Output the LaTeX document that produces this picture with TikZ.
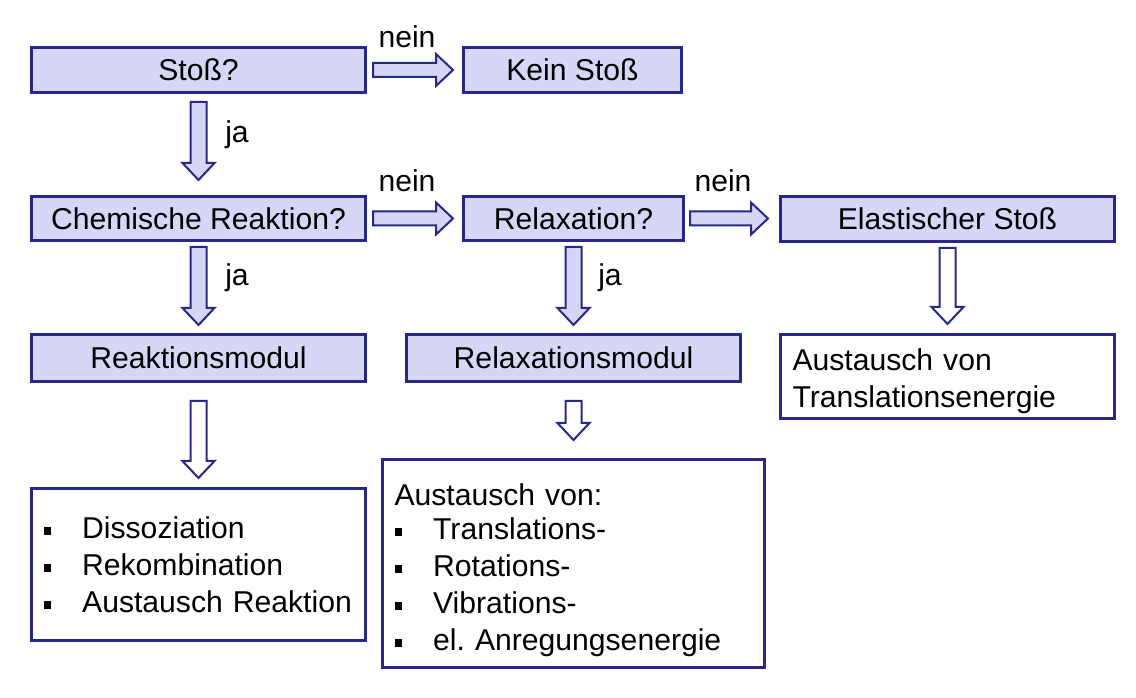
\documentclass[tikz,border=0pt]{standalone}
\usepackage{fontspec}
\setmainfont{Liberation Sans}
\usetikzlibrary{calc}
\definecolor{navy}{RGB}{40,40,140}
\definecolor{lav}{RGB}{214,214,246}
\newcommand\blt{\makebox[29pt][l]{\rule[2.6pt]{5.5pt}{5.75pt}}}
% vertical block arrow: src, dst, start gap, end gap, fill
\newcommand\darrow[5]{%
  \draw[blkarrow,fill=#5] let \p1=(#1.south), \p2=(#2.north) in
  ({\x1-6pt},{\y1-#3}) -- ({\x1+6pt},{\y1-#3}) -- ({\x1+6pt},{\y2+#4+12.75pt})
  -- ({\x1+12pt},{\y2+#4+12.75pt}) -- (\x1,{\y2+#4}) -- ({\x1-12pt},{\y2+#4+12.75pt})
  -- ({\x1-6pt},{\y2+#4+12.75pt}) -- cycle;}
% horizontal block arrow
\newcommand\rarrow[4]{%
  \draw[blkarrow,fill=lav] let \p1=(#1.east), \p2=(#2.west) in
  ({\x1+#3},{\y1-5.25pt}) -- ({\x2-#4-12.75pt},{\y1-5.25pt}) -- ({\x2-#4-12.75pt},{\y1-12pt})
  -- ({\x2-#4},\y1) -- ({\x2-#4-12.75pt},{\y1+12pt}) -- ({\x2-#4-12.75pt},{\y1+5.25pt})
  -- ({\x1+#3},{\y1+5.25pt}) -- cycle;}
\begin{document}
\begin{tikzpicture}[x=0.75pt,y=-0.75pt,
  txt/.style={font=\fontsize{22.6}{27.75}\selectfont},
  box/.style={txt,draw=navy,line width=2.25pt,fill=lav,inner sep=0pt},
  wbox/.style={box,fill=white},
  blkarrow/.style={draw=navy,line width=1.5pt,line join=miter},
  lbl/.style={txt,inner sep=0pt}]
\useasboundingbox[fill=white] (0,0) rectangle (1136,698);
% boxes
\node[box,minimum width={334*0.75pt},minimum height={45*0.75pt}] (stoss) at (198.5,70) {Stoß?};
\node[box,minimum width={218*0.75pt},minimum height={45*0.75pt}] (kein) at (572.5,70) {Kein Stoß};
\node[box,minimum width={334*0.75pt},minimum height={44*0.75pt}] (chem) at (198.5,218.5) {Chemische Reaktion?};
\node[box,minimum width={220*0.75pt},minimum height={44*0.75pt}] (relax) at (573.5,218.5) {Relaxation?};
\node[box,minimum width={334*0.75pt},minimum height={45*0.75pt}] (elast) at (947.5,219) {Elastischer Stoß};
\node[box,minimum width={334*0.75pt},minimum height={47*0.75pt}] (reakt) at (198.5,358) {Reaktionsmodul};
\node[box,minimum width={334*0.75pt},minimum height={47*0.75pt}] (relmod) at (573.5,358) {Relaxationsmodul};
\node[wbox,minimum width={334*0.75pt},minimum height={84*0.75pt},text width={310*0.75pt},align=left] (transl) at (947.5,376.5) {\rule{0pt}{23pt}Austausch von\\Translationsenergie};
\node[wbox,minimum width={334*0.75pt},minimum height={152*0.75pt},text width={310*0.75pt},align=left] (list1) at (198.5,564.5)
  {\blt Dissoziation\\\blt Rekombination\\\blt Austausch Reaktion};
\node[wbox,minimum width={382*0.75pt},minimum height={208*0.75pt},text width={358*0.75pt},align=left] (list2) at (573.5,563.5)
  {\rule{0pt}{26pt}Austausch von:\\[-2pt]\blt Translations-\\\blt Rotations-\\\blt Vibrations-\\\blt el.\ Anregungsenergie};
% arrows
\rarrow{stoss}{kein}{4.5pt}{6.75pt}
\rarrow{chem}{relax}{4.5pt}{6.75pt}
\rarrow{relax}{elast}{3.75pt}{8.25pt}
\darrow{stoss}{chem}{6pt}{11.25pt}{lav}
\darrow{chem}{reakt}{3.75pt}{6pt}{lav}
\darrow{relax}{relmod}{3.75pt}{6pt}{lav}
\darrow{elast}{transl}{3.75pt}{6.75pt}{white}
\darrow{reakt}{list1}{13.5pt}{6.75pt}{white}
\darrow{relmod}{list2}{13.5pt}{13.5pt}{white}
% labels
\node[lbl] (n1) at (407,37) {nein};
\node[lbl] (n2) at (407,181) {nein};
\node[lbl] (n3) at (723,181) {nein};
\node[lbl] (j1) at (237,135) {ja};
\node[lbl] (j2) at (237,278) {ja};
\node[lbl] (j3) at (610,278) {ja};
\end{tikzpicture}
\end{document}
